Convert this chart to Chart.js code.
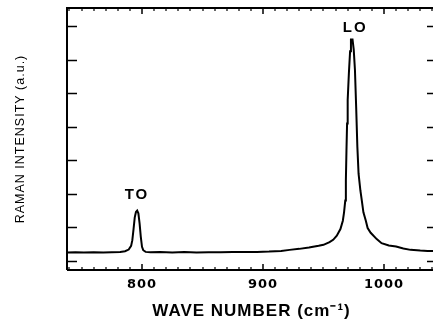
<!DOCTYPE html>
<html>
<head>
<meta charset="utf-8">
<script src="https://cdn.jsdelivr.net/npm/chart.js@4.4.1/dist/chart.umd.min.js"></script>
<style>
  html, body { margin: 0; padding: 0; background: #fff; overflow: hidden; }
  #wrap { width: 440px; height: 322px; }
</style>
</head>
<body>
<div id="wrap"><canvas id="chartRaman"></canvas></div>
<script>
// wave number (cm^-1) and Raman intensity (a.u.)
const wavenumber = [
  738, 745, 752, 760, 768, 775, 782, 786, 789, 791, 792, 793, 794, 795, 796, 797, 798, 799, 800, 801, 803,
  807, 815, 825, 835, 845, 855, 865, 875, 885, 895, 905, 915, 922, 930, 938, 946, 950, 955, 958, 961,
  964, 966, 967, 968, 968.5, 969, 969.5, 970, 971, 972, 972.7, 974, 975, 976, 977, 978, 979, 980.5,
  981.6, 983, 985, 986.5, 989, 994, 998, 1004, 1010, 1016, 1022, 1030, 1036, 1043
];
const intensity = [
  0.25, 0.26, 0.25, 0.26, 0.25, 0.26, 0.27, 0.29, 0.34, 0.45, 0.62, 0.95, 1.3, 1.46, 1.5, 1.42, 1.12, 0.72, 0.42, 0.32, 0.27,
  0.26, 0.27, 0.25, 0.27, 0.25, 0.26, 0.26, 0.27, 0.27, 0.27, 0.28, 0.3, 0.33, 0.36, 0.4, 0.45, 0.48, 0.56, 0.63, 0.75,
  0.95, 1.2, 1.45, 1.8, 2.4, 3.3, 4.1, 4.8, 5.6, 6.25, 6.6, 6.6, 6.3, 5.7, 4.6, 3.4, 2.6, 2.1,
  1.82, 1.45, 1.2, 0.98, 0.84, 0.65, 0.53, 0.46, 0.43, 0.37, 0.33, 0.31, 0.3, 0.3
];

const xMajorTicks = [800, 900, 1000];
const xMinorTicks = [740, 750, 760, 770, 780, 790, 810, 820, 830, 840, 850, 860, 870, 880, 890,
  910, 920, 930, 940, 950, 960, 970, 980, 990, 1010, 1020, 1030, 1040];
const yTicks = [0, 1, 2, 3, 4, 5, 6, 7];

const peakNames = ["TO", "LO"];
const peakNameX = [795, 975.4];
const peakNameY = [1.96, 6.96];

const spacedText = {
  id: "spacedText",
  beforeDraw(chart) {
    chart.ctx.letterSpacing = "1px";
  },
};

const frameAndTicks = {
  id: "frameAndTicks",
  afterDraw(chart) {
    const { ctx, chartArea: a, scales: { x, y } } = chart;
    ctx.save();
    ctx.strokeStyle = "#000";

    ctx.lineWidth = 2;
    ctx.beginPath();
    ctx.moveTo(a.left, a.bottom);
    ctx.lineTo(a.left, a.top);
    ctx.lineTo(a.right, a.top);
    ctx.lineTo(a.right, a.bottom);
    ctx.lineTo(a.left, a.bottom);
    ctx.stroke();

    ctx.lineWidth = 1.5;
    ctx.beginPath();
    yTicks.forEach((v) => {
      const py = Math.round(y.getPixelForValue(v)) + 0.5;
      ctx.moveTo(a.left, py); ctx.lineTo(a.left + 10, py);
      ctx.moveTo(a.right, py); ctx.lineTo(a.right - 9, py);
    });
    xMajorTicks.forEach((v) => {
      const px = Math.round(x.getPixelForValue(v));
      ctx.moveTo(px, a.bottom); ctx.lineTo(px, a.bottom - 6);
      ctx.moveTo(px, a.top); ctx.lineTo(px, a.top + 6);
    });
    ctx.stroke();

    ctx.lineWidth = 1.2;
    ctx.beginPath();
    xMinorTicks.forEach((v) => {
      const px = Math.round(x.getPixelForValue(v));
      ctx.moveTo(px, a.bottom); ctx.lineTo(px, a.bottom - 3);
      ctx.moveTo(px, a.top); ctx.lineTo(px, a.top + 3);
    });
    ctx.stroke();

    ctx.fillStyle = "#000";
    ctx.font = 'bold 15px "Liberation Sans", Arial, sans-serif';
    ctx.letterSpacing = "2px";
    ctx.textAlign = "center";
    ctx.textBaseline = "middle";
    peakNames.forEach((name, i) => {
      ctx.fillText(name, x.getPixelForValue(peakNameX[i]) + 1, y.getPixelForValue(peakNameY[i]));
    });
    ctx.restore();
  },
};

new Chart(document.getElementById("chartRaman").getContext("2d"), {
  type: "line",
  data: {
    datasets: [{
      data: wavenumber.map((w, i) => ({ x: w, y: intensity[i] })),
      borderColor: "#000",
      borderWidth: 2,
      pointRadius: 0,
      tension: 0,
      fill: false,
    }],
  },
  options: {
    responsive: true,
    maintainAspectRatio: false,
    animation: false,
    layout: { padding: { left: 0, top: 8, right: 4, bottom: 0 } },
    plugins: { legend: { display: false }, tooltip: { enabled: false } },
    scales: {
      x: {
        type: "linear",
        min: 738,
        max: 1043,
        afterBuildTicks: (s) => { s.ticks = xMajorTicks.map((v) => ({ value: v })); },
        afterFit: (s) => { s.height = 52; },
        grid: { display: false, drawTicks: false },
        border: { display: false },
        ticks: {
          color: "#000",
          padding: 7,
          maxRotation: 0,
          callback: (v) => String(v),
          font: { family: '"DejaVu Sans", sans-serif', size: 13, weight: "bold" },
        },
        title: {
          display: true,
          text: "WAVE NUMBER (cm⁻¹)",
          color: "#000",
          padding: { top: 0, bottom: 0 },
          font: { family: '"Liberation Sans", Arial, sans-serif', size: 17, weight: "bold" },
        },
      },
      y: {
        min: -0.27,
        max: 7.54,
        afterBuildTicks: (s) => { s.ticks = yTicks.map((v) => ({ value: v })); },
        afterFit: (s) => { s.width = 67; },
        grid: { display: false, drawTicks: false },
        border: { display: false },
        ticks: { display: false },
        title: {
          display: true,
          text: "RAMAN INTENSITY (a.u.)",
          color: "#000",
          padding: { top: 13, bottom: 0 },
          font: { family: '"Liberation Sans", Arial, sans-serif', size: 12.5 },
        },
      },
    },
  },
  plugins: [spacedText, frameAndTicks],
});
</script>
</body>
</html>
